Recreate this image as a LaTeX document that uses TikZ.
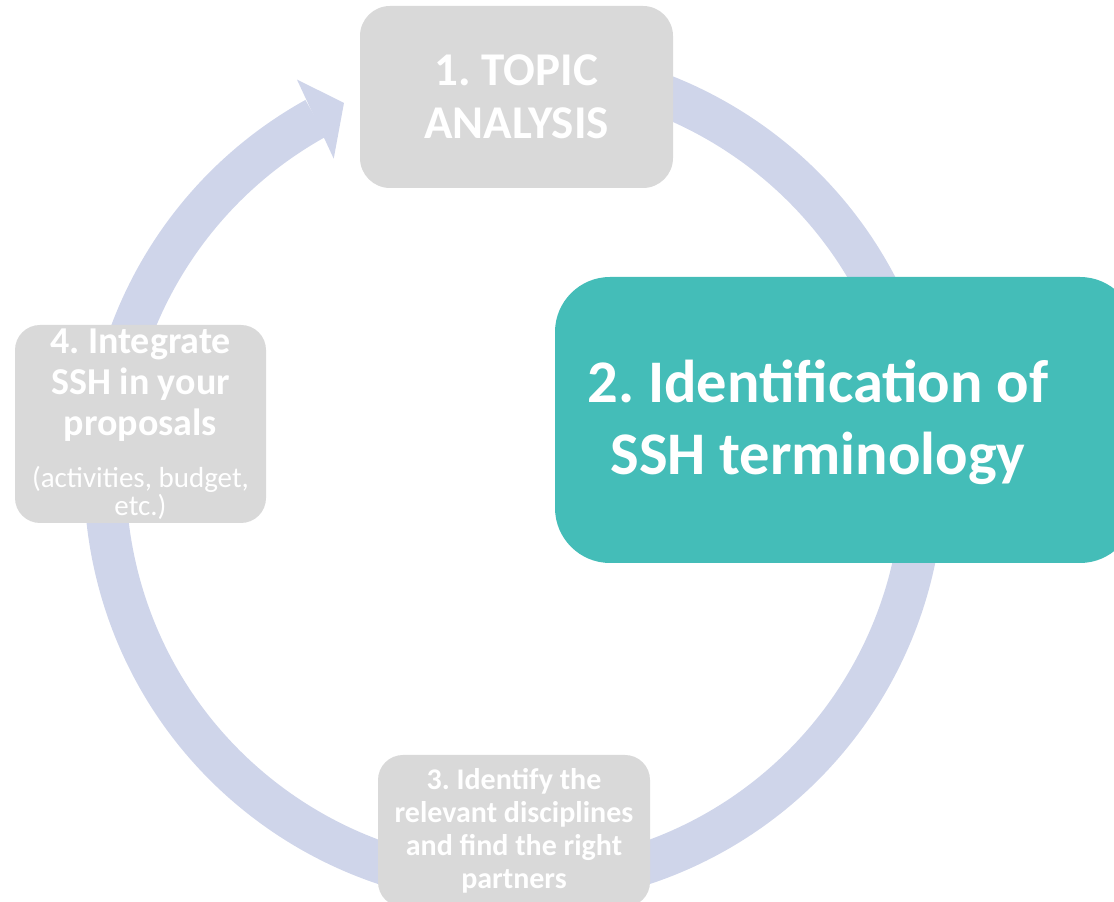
\documentclass[tikz,border=0pt]{standalone}
\usepackage{fontspec}
\setmainfont{Carlito}
\definecolor{ringcol}{HTML}{CFD5EA}
\definecolor{boxgray}{HTML}{D9D9D9}
\definecolor{teal2}{HTML}{44BDB8}
\newcommand{\natsp}{\frenchspacing\spaceskip=0pt\xspaceskip=0pt\relax}
\begin{document}
\begin{tikzpicture}[x=1pt,y=1pt,
  graybox/.style={rectangle, fill=boxgray, text=white, inner sep=0pt},
  tealbox/.style={rectangle, fill=teal2, text=white, inner sep=0pt},
  txt/.style={text=white, inner sep=0pt},
]
\clip (0,0) rectangle (1114,902);
\useasboundingbox (0,0) rectangle (1114,902);
\coordinate (c) at (514,426);
% ring
\draw[ringcol, line width=42pt] (c) ++(100:409) arc[start angle=100, end angle=-241, radius=409];
\fill[ringcol, shift={(c)}] (118.7:452) -- (114.5:410) -- (119.6:365) -- cycle;
% boxes
\node[graybox, rounded corners=30pt, minimum width=313pt, minimum height=182pt, text width=300pt] (b1) at (516.5,805)
  {\natsp\centering\fontsize{47}{53}\selectfont\bfseries 1. TOPIC\\ANALYSIS\par};
\node[tealbox, rounded corners=55pt, minimum width=580pt, minimum height=286pt] (b2) at (845,482) {};
\node[txt, text width=560pt] (b2t) at (818,480)
  {\natsp\centering\fontsize{60.5}{72}\selectfont\bfseries 2. Identification of\\SSH terminology\par};
\node[graybox, rounded corners=25pt, minimum width=272pt, minimum height=152pt, text width=272pt] (b3) at (514,71)
  {\natsp\centering\fontsize{30}{33}\selectfont\bfseries 3. Identify the\\relevant disciplines\\and find the right\\partners\par};
\node[graybox, rounded corners=25pt, minimum width=251pt, minimum height=198pt, text width=251pt] (b4) at (140.5,478)
  {\natsp\centering
   {\fontsize{38}{41}\selectfont\bfseries 4. Integrate\\SSH in your\\proposals\par}
   \vspace{24pt}
   {\fontsize{29}{28}\selectfont (activities, budget,\\etc.)\par}};
\end{tikzpicture}
\end{document}
